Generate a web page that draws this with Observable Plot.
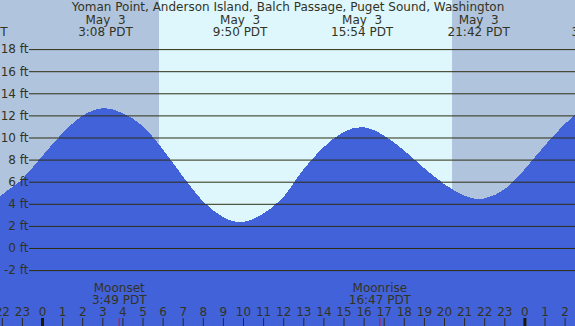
<!DOCTYPE html>
<html><head><meta charset="utf-8">
<script src="https://cdn.jsdelivr.net/npm/d3@7"></script>
<script src="https://cdn.jsdelivr.net/npm/@observablehq/plot@0.6"></script>
<style>
html,body{margin:0;padding:0;overflow:hidden;background:#b0c4de;}
#chart svg{display:block;overflow:hidden !important;font-family:"DejaVu Sans",sans-serif !important;}
#chart svg text{white-space:pre;font-family:"DejaVu Sans",sans-serif !important;}
</style></head><body><div id="chart"></div>
<script>
// Tide height readings: hours after May 3 00:00 PDT, feet
const tideHours = [-2.09, -2, -1, 0, 1, 2, 3.133, 4, 5, 6, 7, 8, 9, 9.833, 11, 12, 13, 14, 15, 15.9, 17, 18, 19, 20, 21, 21.7, 22, 23, 24, 25, 26, 26.52];
const tideFeet  = [4.65, 4.8, 6.2, 8.3, 10.35, 11.95, 12.66, 12.2, 11.05, 8.95, 6.5, 4.25, 2.8, 2.33, 3.1, 4.6, 7.1, 9.1, 10.5, 10.94, 10.2, 8.85, 7.25, 5.8, 4.75, 4.41, 4.48, 5.3, 7.1, 9.25, 11.2, 12.06];

// High / low tide labels
const extremeHours = [-3.28, 3.133, 9.833, 15.9, 21.7, 27.67];
const extremeDates = ["May  2", "May  3", "May  3", "May  3", "May  3", "May  4"];
const extremeTimes = ["20:43 PDT", "3:08 PDT", "9:50 PDT", "15:54 PDT", "21:42 PDT", "3:40 PDT"];

// Daylight
const sunriseHour = 5.82;
const sunsetHour = 20.40;

// Moon events
const moonHours = [3.817, 16.783];
const moonNames = ["Moonset", "Moonrise"];
const moonTimes = ["3:49 PDT", "16:47 PDT"];

// Axes
const hourTicks  = [-2, -1, 0, 1, 2, 3, 4, 5, 6, 7, 8, 9, 10, 11, 12, 13, 14, 15, 16, 17, 18, 19, 20, 21, 22, 23, 24, 25, 26];
const hourLabels = ["22", "23", "0", "1", "2", "3", "4", "5", "6", "7", "8", "9", "10", "11", "12", "13", "14", "15", "16", "17", "18", "19", "20", "21", "22", "23", "0", "1", "2"];
const midnightHours = [0, 24];
const feetTicks  = [-2, 0, 2, 4, 6, 8, 10, 12, 14, 16, 18];
const feetLabels = ["-2 ft", "0 ft", "2 ft", "4 ft", "6 ft", "8 ft", "10 ft", "12 ft", "14 ft", "16 ft", "18 ft"];
const title = "Yoman Point, Anderson Island, Balch Passage, Puget Sound, Washington";

const tide = tideHours.map((h, i) => ({h, ft: tideFeet[i]}));
const extremes = extremeHours.map((h, i) => ({h, date: extremeDates[i], time: extremeTimes[i]}));
const moons = moonHours.map((h, i) => ({h, name: moonNames[i], time: moonTimes[i]}));
const hours = hourTicks.map((h, i) => ({h, label: hourLabels[i]}));
const feet = feetTicks.map((f, i) => ({f, label: feetLabels[i]}));

const night = "#b0c4de", day = "#ddf7fd", water = "#4262d9", grid = "#2e2e12", ink = "#33331f";
const FS = 12, FF = "DejaVu Sans";
const yDom = [-7.059, 22.443];
const txt = {fill: ink, fontSize: FS, fontFamily: FF};

const chart = Plot.plot({
  width: 575, height: 326, margin: 0,
  x: {domain: [-2.0896, 26.517], axis: null},
  y: {domain: yDom, axis: null},
  style: {background: night, fontFamily: FF, fontSize: FS + "px", color: ink},
  marks: [
    Plot.rect([{a: sunriseHour, b: sunsetHour}], {x1: "a", x2: "b", fill: day}),
    Plot.areaY(tide, {x: "h", y1: yDom[0], y2: "ft", fill: water, curve: "monotone-x", clip: true, shapeRendering: "crispEdges"}),
    Plot.ruleY(feet, {y: "f", insetLeft: 29, stroke: grid, strokeWidth: 1}),
    Plot.text(feet, {y: "f", text: "label", frameAnchor: "left", textAnchor: "end", dx: 28, ...txt}),
    Plot.text([title], {text: d => d, frameAnchor: "top", lineAnchor: "top", dy: 2.4, ...txt}),
    Plot.text(extremes, {x: "h", text: "date", frameAnchor: "top", lineAnchor: "top", dy: 14.8, ...txt}),
    Plot.text(extremes, {x: "h", text: "time", frameAnchor: "top", lineAnchor: "top", dy: 27.1, ...txt}),
    Plot.ruleX(hours, {x: "h", insetTop: 318, stroke: "#2a2a20", strokeWidth: 1}),
    Plot.ruleX(midnightHours, {x: d => d, insetTop: 318, stroke: "#1a1a00", strokeWidth: 3}),
    Plot.ruleX(moons, {x: "h", insetTop: 318, stroke: "#ff0000", strokeWidth: 1}),
    Plot.text(hours, {x: "h", text: "label", frameAnchor: "top", lineAnchor: "top", dy: 307.1, ...txt}),
    Plot.text(moons, {x: "h", text: "name", frameAnchor: "top", lineAnchor: "top", dy: 282.5, ...txt}),
    Plot.text(moons, {x: "h", text: "time", frameAnchor: "top", lineAnchor: "top", dy: 294.8, ...txt})
  ]
});
document.getElementById("chart").appendChild(chart);
</script>
</body></html>
